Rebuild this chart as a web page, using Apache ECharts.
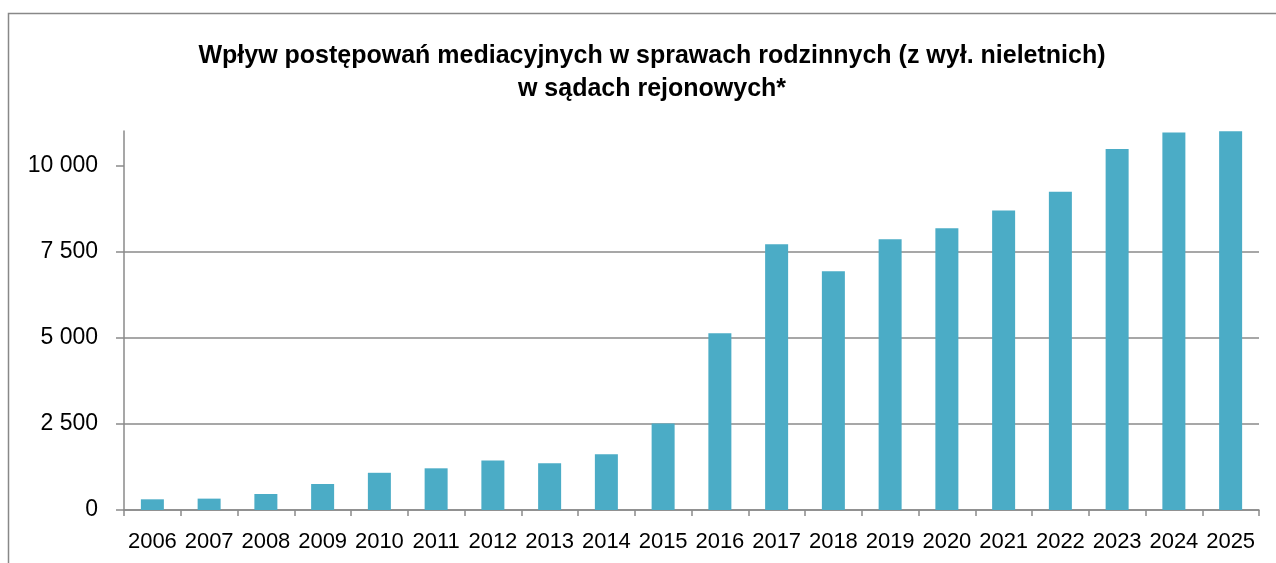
<!DOCTYPE html>
<html lang="pl">
<head>
    <meta charset="UTF-8">
    <title>Mediacje</title>
    <script src="https://cdn.jsdelivr.net/npm/echarts@6/dist/echarts.min.js"></script>
    <style>
        html, body { margin: 0; padding: 0; background: #fff; }
        #main { width: 1276px; height: 563px; }
    </style>
</head>
<body>
<div id="main"></div>
<script>
    // lata i liczba wpływów
    var years = ['2006', '2007', '2008', '2009', '2010', '2011', '2012', '2013', '2014', '2015',
                 '2016', '2017', '2018', '2019', '2020', '2021', '2022', '2023', '2024', '2025'];
    var values = [310, 330, 465, 755, 1080, 1210, 1440, 1360, 1615, 2510,
                  5130, 7710, 6930, 7855, 8175, 8695, 9235, 10475, 10955, 10995];
    var yTicks = [0, 2500, 5000, 7500, 10000];

    var myChart = echarts.init(document.getElementById('main'));
    var gray = '#8a8a8a';
    var option = {
        animation: false,
        backgroundColor: '#fff',
        title: {
            text: 'Wpływ postępowań mediacyjnych w sprawach rodzinnych (z wył. nieletnich)\nw sądach rejonowych*',
            left: 647,
            textAlign: 'center',
            top: 35,
            textStyle: {
                fontFamily: 'Liberation Sans',
                fontSize: 25,
                fontWeight: 'bold',
                color: '#000',
                lineHeight: 33
            }
        },
        graphic: [{
            type: 'rect',
            shape: { x: 8.5, y: 13.5, width: 1400, height: 700 },
            style: { fill: 'none', stroke: '#888', lineWidth: 1.5 },
            silent: true
        }],
        grid: { left: 124, right: 17, top: 131, bottom: 53 },
        xAxis: {
            type: 'category',
            data: years,
            axisLine: { lineStyle: { color: gray, width: 1.5 } },
            axisTick: { show: true, length: 6, lineStyle: { color: gray, width: 1.5 } },
            axisLabel: {
                color: '#000',
                fontFamily: 'Liberation Sans',
                fontSize: 22,
                margin: 21,
                interval: 0
            }
        },
        yAxis: {
            type: 'value',
            min: 0,
            max: 11000,
            interval: 2500,
            axisLine: { show: true, lineStyle: { color: gray, width: 1.5 } },
            axisTick: { show: true, length: 8, customValues: yTicks, lineStyle: { color: gray, width: 1.5 } },
            splitLine: { showMaxLine: false, lineStyle: { color: gray, width: 1.5 } },
            axisLabel: {
                color: '#000',
                fontFamily: 'Liberation Sans',
                fontSize: 23,
                margin: 26,
                customValues: yTicks,
                formatter: function (v) {
                    return v >= 1000 ? Math.floor(v / 1000) + ' ' + String(v % 1000).padStart(3, '0') : String(v);
                }
            }
        },
        series: [{
            type: 'bar',
            data: values,
            barWidth: 23,
            itemStyle: { color: '#4BACC6' }
        }]
    };
    myChart.setOption(option);
    window.onresize = myChart.resize;
</script>
</body>
</html>
